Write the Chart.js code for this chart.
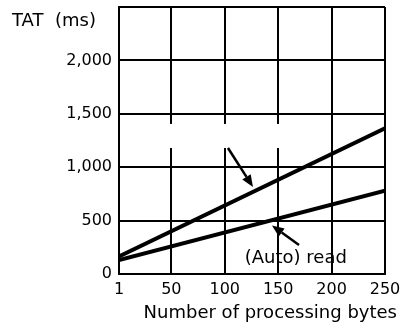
<!DOCTYPE html>
<html>
<head>
<meta charset="utf-8">
<script src="https://cdn.jsdelivr.net/npm/chart.js@4/dist/chart.umd.min.js"></script>
<style>
  body { margin: 0; background: #fff; }
  canvas { display: block; }
</style>
</head>
<body>
<canvas id="tatChart" width="401" height="331"></canvas>
<script>
// Turn-around time vs. number of processing bytes
const processingBytes = [1, 250];
const tatUpper = [165, 1365];   // unlabelled (arrow only)
const tatAutoRead = [130, 780]; // "(Auto) read"

const xTickValues = [1, 50, 100, 150, 200, 250];
const yTickValues = [0, 500, 1000, 1500, 2000, 2500];

// Arrows in data coordinates (tail -> head)
const arrowTails = [[103, 1180], [169.5, 272]];
const arrowHeads = [[126.4, 815], [144.2, 454]];
const readLabelAt = [166.5, 150];

// Erased stretch of the vertical grid (from / to, in data units)
const gridGapX = [5, 170];
const gridGapY = [1180, 1405];

const FONT = '"DejaVu Sans", "Liberation Sans", sans-serif';

const gridGapPlugin = {
    id: 'gridGap',
    beforeDatasetsDraw(chart) {
        const { ctx, scales: { x, y } } = chart;
        const x0 = x.getPixelForValue(gridGapX[0]);
        const x1 = x.getPixelForValue(gridGapX[1]);
        const y0 = y.getPixelForValue(gridGapY[1]);
        const y1 = y.getPixelForValue(gridGapY[0]);
        ctx.save();
        ctx.fillStyle = '#fff';
        ctx.fillRect(x0, y0, x1 - x0, y1 - y0);
        ctx.restore();
    }
};

function drawArrow(ctx, fx, fy, tx, ty) {
    const ang = Math.atan2(ty - fy, tx - fx);
    const len = 12, half = 5;
    const bx = tx - len * Math.cos(ang);
    const by = ty - len * Math.sin(ang);
    ctx.beginPath();
    ctx.moveTo(fx, fy);
    ctx.lineTo(bx, by);
    ctx.stroke();
    ctx.beginPath();
    ctx.moveTo(tx, ty);
    ctx.lineTo(bx + half * Math.sin(ang), by - half * Math.cos(ang));
    ctx.lineTo(bx - half * Math.sin(ang), by + half * Math.cos(ang));
    ctx.closePath();
    ctx.fill();
}

const textPlugin = {
    id: 'chartText',
    afterDraw(chart) {
        const { ctx, scales: { x, y } } = chart;
        ctx.save();
        ctx.fillStyle = '#000';
        ctx.strokeStyle = '#000';
        ctx.lineWidth = 2.5;

        arrowTails.forEach((t, i) => {
            const h = arrowHeads[i];
            drawArrow(ctx,
                x.getPixelForValue(t[0]), y.getPixelForValue(t[1]),
                x.getPixelForValue(h[0]), y.getPixelForValue(h[1]));
        });

        ctx.font = '18px ' + FONT;
        ctx.textBaseline = 'middle';
        ctx.textAlign = 'center';
        ctx.fillText('(Auto) read', x.getPixelForValue(readLabelAt[0]), y.getPixelForValue(readLabelAt[1]));

        // axis titles
        ctx.textAlign = 'left';
        ctx.fillText('TAT  (ms)', 12, 21);
        ctx.textAlign = 'right';
        ctx.fillText('Number of processing bytes', 397, 313);
        ctx.restore();
    }
};

// keep the plot box fixed: no extra room for half-labels at the ends
function noScalePadding(s) {
    s.paddingTop = 0;
    s.paddingBottom = 0;
    s.paddingLeft = 0;
    s.paddingRight = 0;
}

new Chart(document.getElementById('tatChart'), {
    type: 'line',
    data: {
        datasets: [
            {
                label: 'TAT',
                data: processingBytes.map((b, i) => ({ x: b, y: tatUpper[i] })),
                borderColor: '#000',
                borderWidth: 4,
                pointRadius: 0
            },
            {
                label: '(Auto) read',
                data: processingBytes.map((b, i) => ({ x: b, y: tatAutoRead[i] })),
                borderColor: '#000',
                borderWidth: 4,
                pointRadius: 0
            }
        ]
    },
    options: {
        responsive: false,
        animation: false,
        devicePixelRatio: 1,
        layout: { padding: { top: 7, right: 16, left: 0, bottom: 0 } },
        plugins: {
            legend: { display: false },
            tooltip: { enabled: false }
        },
        scales: {
            x: {
                type: 'linear',
                min: 1,
                max: 250,
                afterBuildTicks: s => { s.ticks = xTickValues.map(v => ({ value: v })); },
                afterFit: s => { s.height = 57; noScalePadding(s); },
                grid: { color: '#000', lineWidth: 2, drawTicks: false },
                border: { color: '#000', width: 2 },
                ticks: {
                    color: '#000',
                    padding: 6,
                    maxRotation: 0,
                    font: { family: FONT, size: 16 }
                }
            },
            y: {
                min: 0,
                max: 2500,
                afterBuildTicks: s => { s.ticks = yTickValues.map(v => ({ value: v })); },
                afterFit: s => { s.width = 119; noScalePadding(s); },
                grid: { color: '#000', lineWidth: 2, drawTicks: false },
                border: { color: '#000', width: 2 },
                ticks: {
                    color: '#000',
                    padding: 7,
                    font: { family: FONT, size: 16 },
                    callback: v => v === 2500 ? '' : v.toLocaleString('en-US')
                }
            }
        }
    },
    plugins: [gridGapPlugin, textPlugin]
});
</script>
</body>
</html>
